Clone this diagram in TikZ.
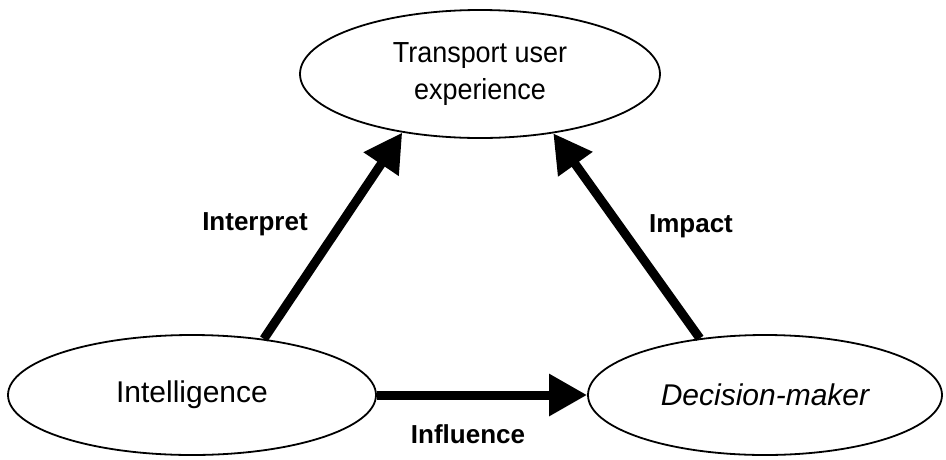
\documentclass[tikz,border=0pt]{standalone}
\usepackage{fontspec}
\setmainfont{Liberation Sans}
\newfontfamily\slimsans{Liberation Sans}[FakeStretch=0.93]
\usetikzlibrary{shapes.geometric,arrows.meta}
\begin{document}
\begin{tikzpicture}[x=1pt,y=-1pt,
  oval/.style={draw, line width=1.8pt, ellipse, inner sep=0pt, align=center},
  conn/.style={line width=9pt, -{Triangle[length=38pt,width=40pt]}},
  lbl/.style={font=\fontsize{26}{30}\selectfont\bfseries}]
  \useasboundingbox (0,0) rectangle (946,459);

  % the three concepts
  \node[oval, minimum width=360pt, minimum height=128pt,
        font=\slimsans\fontsize{29}{37}\selectfont] (tue) at (480,74)
        {Transport user\\experience};
  \node[oval, minimum width=368pt, minimum height=120pt,
        font=\fontsize{30}{36}\selectfont] (int) at (192,395) {Intelligence};
  \node[oval, minimum width=354pt, minimum height=120pt,
        font=\fontsize{30}{36}\selectfont\itshape] (dec) at (765,395) {Decision-maker};

  % relations between them
  \draw[conn] (int.38.7) -- (tue.217.7);
  \draw[conn] (dec.139.3) -- (tue.321.5);
  \draw[conn] (int.east) -- (dec.west);

  % relation labels
  \node[lbl] (linterp) at (255,224) {Interpret};
  \node[lbl] (limpact) at (691,226) {Impact};
  \node[lbl] (linfl) at (468,434) {Influence};
\end{tikzpicture}
\end{document}
